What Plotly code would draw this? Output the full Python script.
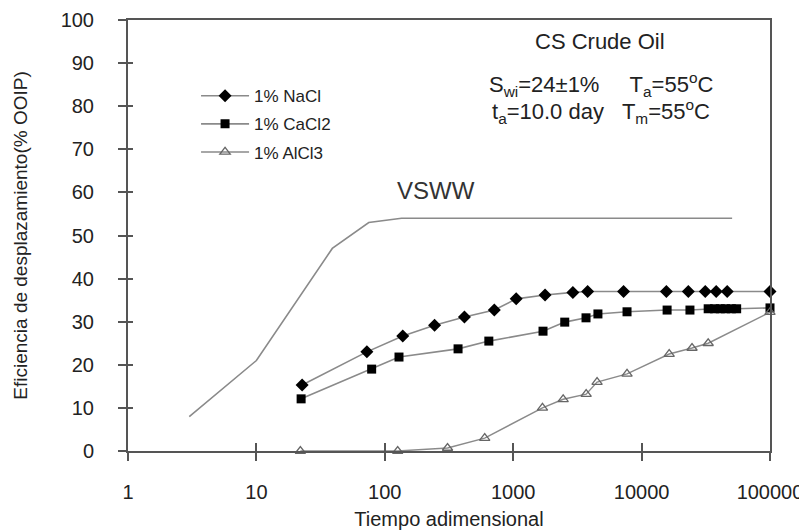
import plotly.graph_objects as go

# ---- data ----
vsww_x = [3.0, 10, 39, 75, 135, 50700]
vsww_y = [8, 21, 47, 53, 54, 54]

nacl_x = [22.7, 72.5, 138, 244, 417, 713, 1055, 1770, 2915, 3800, 7240, 15600, 23100, 31300, 38100, 46400, 100000]
nacl_y = [15.3, 23.0, 26.7, 29.2, 31.1, 32.7, 35.3, 36.2, 36.8, 37, 37, 37, 37, 37, 37, 37, 37]

cacl_x = [22.3, 79, 129, 372, 646, 1707, 2520, 3690, 4570, 7700, 15800, 23800, 33000, 37000, 41000, 45000, 50000, 55000, 100000]
cacl_y = [12.1, 19.0, 21.8, 23.7, 25.5, 27.8, 29.9, 30.9, 31.8, 32.3, 32.7, 32.7, 33, 33, 33, 33, 33, 33, 33.2]

alcl_x = [22, 126, 308, 600, 1690, 2450, 3700, 4500, 7700, 16400, 24700, 33000, 100000]
alcl_y = [0, 0, 0.7, 3, 10, 12, 13.2, 16, 17.9, 22.5, 23.9, 25, 32.2]

x_ticks = [1, 10, 100, 1000, 10000, 100000]
x_tick_labels = ["1", "10", "100", "1000", "10000", "100000"]
y_ticks = list(range(0, 101, 10))

FONT = "Arial, Liberation Sans, sans-serif"
LINE = "#8a8a8a"
AX = "#555555"
TXT = "#222222"

fig = go.Figure()

fig.add_trace(go.Scatter(x=vsww_x, y=vsww_y, mode="lines", line=dict(color=LINE, width=1.6),
                         showlegend=False, cliponaxis=False))
fig.add_trace(go.Scatter(x=nacl_x, y=nacl_y, mode="lines+markers", name="1% NaCl", legendgroup="a",
                         line=dict(color=LINE, width=1.6),
                         marker=dict(symbol="diamond", size=10, color="black"), cliponaxis=False))
fig.add_trace(go.Scatter(x=cacl_x, y=cacl_y, mode="lines+markers", name="1% CaCl2", legendgroup="b",
                         line=dict(color=LINE, width=1.6),
                         marker=dict(symbol="square", size=9, color="black"), cliponaxis=False))
fig.add_trace(go.Scatter(x=alcl_x, y=alcl_y, mode="lines+markers", name="1% AlCl3", legendgroup="c",
                         line=dict(color=LINE, width=1.4),
                         marker=dict(symbol="triangle-up-open", size=9, color="#666666",
                                     line=dict(width=1.3)), cliponaxis=False))
# invisible trace for the overlay axes (inside tick halves)
fig.add_trace(go.Scatter(x=[10], y=[50], xaxis="x2", yaxis="y2", mode="markers",
                         marker=dict(opacity=0), showlegend=False, hoverinfo="skip"))

fig.update_layout(
    width=807, height=532,
    margin=dict(l=120, r=45, t=12, b=89),
    paper_bgcolor="white", plot_bgcolor="white",
    font=dict(family=FONT, size=20, color=TXT),
    xaxis=dict(type="log", range=[0, 5], tickvals=x_ticks, ticktext=x_tick_labels,
               ticks="outside", ticklen=8, tickwidth=1.5, tickcolor=AX,
               showline=True, linecolor=AX, linewidth=2, mirror=True,
               showgrid=False, zeroline=False, ticklabelstandoff=14, automargin=False,
               tickfont=dict(size=20),
               title=dict(text="Tiempo adimensional", font=dict(size=20), standoff=10)),
    yaxis=dict(range=[0, 100], tickvals=y_ticks, ticks="outside", ticklen=8, tickwidth=1.5,
               tickcolor=AX, showline=True, linecolor=AX, linewidth=2, mirror=True,
               showgrid=False, zeroline=False, ticklabelstandoff=20, automargin=False,
               tickfont=dict(size=20),
               title=dict(text="Eficiencia de desplazamiento(% OOIP)", font=dict(size=19), standoff=28)),
    xaxis2=dict(type="log", range=[0, 5], overlaying="x", anchor="y", side="bottom",
                tickvals=x_ticks, ticks="inside", ticklen=8, tickwidth=1.5, tickcolor=AX,
                showticklabels=False, showgrid=False, zeroline=False, showline=False,
                automargin=False),
    yaxis2=dict(range=[0, 100], overlaying="y", anchor="x", side="left",
                tickvals=y_ticks, ticks="inside", ticklen=5, tickwidth=1.5, tickcolor=AX,
                showticklabels=False, showgrid=False, zeroline=False, showline=False,
                automargin=False),
    legend=dict(x=0.106, y=0.865, xanchor="left", yanchor="top", bgcolor="rgba(0,0,0,0)",
                font=dict(size=17), itemwidth=48, tracegroupgap=3, traceorder="grouped"),
    showlegend=True,
)

fig.add_annotation(x=2.40, y=60.5, xref="x", yref="y", text="VSWW", showarrow=False,
                   font=dict(size=24, color="#333333"))

ann_font = dict(size=22, color=TXT)
fig.add_annotation(xref="paper", yref="paper", x=0.735, y=0.949, text="CS Crude Oil",
                   showarrow=False, font=ann_font, xanchor="center", yanchor="middle")
fig.add_annotation(xref="paper", yref="paper", x=0.737, y=0.850,
                   text="S<sub>wi</sub>=24±1%     T<sub>a</sub>=55<sup>o</sup>C",
                   showarrow=False, font=ann_font, xanchor="center", yanchor="middle")
fig.add_annotation(xref="paper", yref="paper", x=0.737, y=0.787,
                   text="t<sub>a</sub>=10.0 day   T<sub>m</sub>=55<sup>o</sup>C",
                   showarrow=False, font=ann_font, xanchor="center", yanchor="middle")

fig.write_html("out.html")
